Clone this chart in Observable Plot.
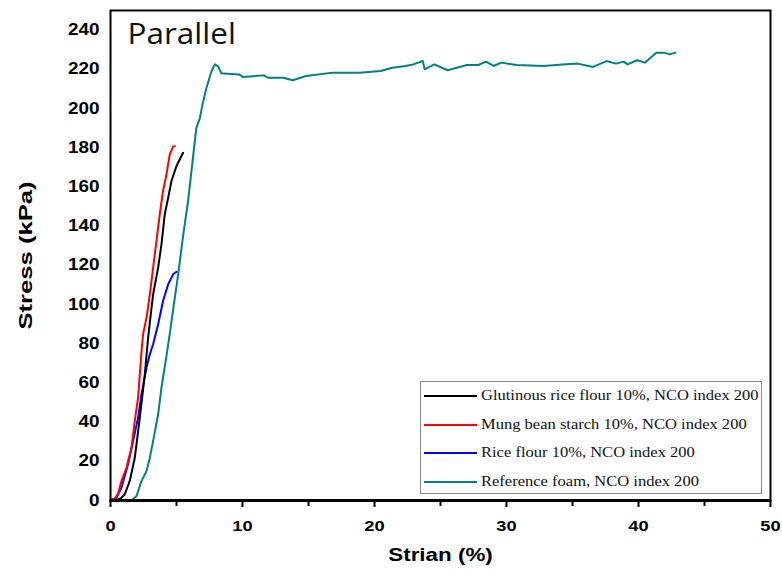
<!DOCTYPE html>
<html>
<head>
<meta charset="utf-8">
<script src="https://cdn.jsdelivr.net/npm/d3@7"></script>
<script src="https://cdn.jsdelivr.net/npm/@observablehq/plot@0.6"></script>
<style>
  html, body { margin: 0; padding: 0; background: #fff; overflow: hidden; }
  #wrap { position: relative; width: 782px; height: 579px; }
  #wrap svg { display: block; }
  #legend {
    position: absolute; left: 420px; top: 381px; width: 342px; height: 113px;
    border: 1px solid #8a8a8a; background: #fff; box-sizing: border-box;
    font-family: "Liberation Serif", "Times New Roman", serif; font-size: 14px; color: #111;
    padding-top: 0px;
  }
  .row { display: flex; align-items: center; height: 28.6px; }
  .sw { width: 53px; height: 0; border-top: 2.5px solid; margin-left: 3px; margin-right: 4px; flex: none; }
  .lab { display: inline-block; transform: scaleX(1.18); transform-origin: left center; white-space: nowrap; }
</style>
</head>
<body>
<div id="wrap"></div>
<script>
// ---- data (strain %, stress kPa) ----
const seriesNames = [
  "Glutinous rice flour 10%, NCO index 200",
  "Mung bean starch 10%, NCO index 200",
  "Rice flour 10%, NCO index 200",
  "Reference foam, NCO index 200"
];
const seriesColors = ["#000000", "#ff0000", "#0000ff", "#008080"];

const glutinous = [[0,0],[0.45,0.3],[0.8,1.2],[1.08,3.2],[1.46,10],[1.84,21.8],[2.22,42.2],[2.6,64.4],[2.85,83],[3.05,95],[3.23,105.2],[3.61,118.8],[3.86,130.7],[4.11,146],[4.37,154.5],[4.62,163],[5.0,170.7],[5.5,177.4]];
const mungBean = [[0,0],[0.33,0.9],[0.6,4],[0.83,10],[1.21,16.7],[1.59,27],[1.84,40.6],[2.09,52.5],[2.35,76.3],[2.47,84.8],[2.73,93.3],[2.98,105.2],[3.23,118.8],[3.48,132.3],[3.73,146],[3.98,157.9],[4.24,166.4],[4.49,176.6],[4.74,180.5],[4.87,180.8]];
const riceFlour = [[0,0],[0.45,1.4],[0.83,6.5],[1.33,18.5],[1.71,30.4],[2.09,42.2],[2.35,54.2],[2.73,67.8],[2.98,74.6],[3.23,79.7],[3.61,89.9],[3.98,101.8],[4.37,110.3],[4.74,115.4],[5.0,116.7]];
const referenceFoam = [[0,0],[1.0,0],[1.6,0],[1.97,2.3],[2.35,10],[2.73,15],[2.98,21.8],[3.23,30.4],[3.61,44],[3.86,57.5],[4.2,72],[4.49,85],[4.8,100],[5.12,115],[5.5,135],[5.88,153],[6.2,172],[6.5,190],[6.77,195],[7.0,203],[7.27,210.6],[7.65,219],[7.9,222.5],[8.15,221.5],[8.4,218],[8.6,217.9],[9.74,217.4],[10.03,216.1],[11.63,216.9],[11.92,215.7],[13.08,215.7],[13.8,214.4],[14.82,216.6],[16.84,218.3],[18.88,218.3],[20.47,219.1],[21.34,220.8],[22.36,221.7],[22.93,222.5],[23.66,224.2],[23.8,220],[24.53,222.5],[25.54,219.5],[27,222.2],[27.86,222.2],[28.45,223.9],[29.02,221.7],[29.6,223.4],[30.77,222.2],[32.8,221.7],[34.24,222.5],[35.4,222.9],[36.56,221.2],[37.57,224.2],[38.3,222.9],[38.88,223.9],[39.17,222.5],[39.9,224.6],[40.48,223.4],[41.35,228.5],[41.93,228.5],[42.36,227.6],[42.8,228.5]];

const xTicks = [0, 10, 20, 30, 40, 50];
const xMinorTicks = [5, 15, 25, 35, 45];
const yTicks = [0, 20, 40, 60, 80, 100, 120, 140, 160, 180, 200, 220, 240];
const panelTitle = "Parallel";
const xTitle = "Strian (%)";
const yTitle = "Stress (kPa)";

const allSeries = [glutinous, mungBean, riceFlour, referenceFoam];
const rows = [];
allSeries.forEach((s, i) => s.forEach(([x, y]) => rows.push({series: seriesNames[i], x, y})));
// draw reference foam first (underneath)
const order = [3, 2, 0, 1];

const chart = Plot.plot({
  width: 782,
  height: 579,
  marginLeft: 110,
  marginRight: 12,
  marginTop: 10,
  marginBottom: 79,
  style: {fontFamily: "'Liberation Sans', Arial, sans-serif", fontSize: "15.5px", fontWeight: "bold", background: "#fff", color: "#000"},
  x: {domain: [0, 50], label: null},
  y: {domain: [0, 250], label: null},
  color: {domain: seriesNames, range: seriesColors},
  marks: [
    Plot.axisX({ticks: xTicks, tickSize: 7, tickPadding: 12, strokeWidth: 2, fontSize: 15.5}),
    Plot.axisX({ticks: xMinorTicks, tickSize: 6, tickFormat: () => "", strokeWidth: 2}),
    Plot.axisY({ticks: yTicks, tickSize: 0, tickPadding: 11, fontSize: 16}),
    ...order.map(i => Plot.line(rows.filter(d => d.series === seriesNames[i]), {x: "x", y: "y", stroke: "series", strokeWidth: 2})),
    Plot.frame({stroke: "#000", strokeWidth: 2}),
    Plot.ruleY([0], {stroke: "#000", strokeWidth: 3}),
    Plot.text([panelTitle], {frameAnchor: "top-left", lineAnchor: "top", dx: 17, dy: 12, fontSize: 30, fontWeight: "normal", fontFamily: "'Open Sans', 'Noto Sans', sans-serif", fill: "#111", textAnchor: "start"}),
    Plot.text([xTitle], {frameAnchor: "bottom", dy: 60, fontSize: 19, fontWeight: "bold", textAnchor: "middle"}),
    Plot.text([yTitle], {frameAnchor: "left", dx: -85, rotate: -90, fontSize: 19, fontWeight: "bold", textAnchor: "middle"})
  ]
});

// the reference artwork is horizontally stretched: widen glyphs around each text's anchor
function stretch(el, s) {
  const x = parseFloat(el.getAttribute("x"));
  const t = el.getAttribute("transform") || "";
  let pre = "";
  if (isFinite(x) && x !== 0 && !/em$/.test(el.getAttribute("x"))) {
    el.removeAttribute("x");
    pre = ` translate(${x},0)`;
  }
  el.setAttribute("transform", `${t}${pre} scale(${s},1)`);
}
d3.select(chart).selectAll("text").each(function () {
  const txt = this.textContent;
  const s = txt === panelTitle ? 1.05 : txt === yTitle ? 1.35 : 1.18;
  stretch(this, s);
});

const wrap = document.getElementById("wrap");
wrap.appendChild(chart);

const legend = document.createElement("div");
legend.id = "legend";
seriesNames.forEach((name, i) => {
  const row = document.createElement("div");
  row.className = "row";
  const sw = document.createElement("span");
  sw.className = "sw";
  sw.style.borderTopColor = seriesColors[i];
  const t = document.createElement("span");
  t.className = "lab";
  t.textContent = name;
  row.appendChild(sw);
  row.appendChild(t);
  legend.appendChild(row);
});
wrap.appendChild(legend);
</script>
</body>
</html>
